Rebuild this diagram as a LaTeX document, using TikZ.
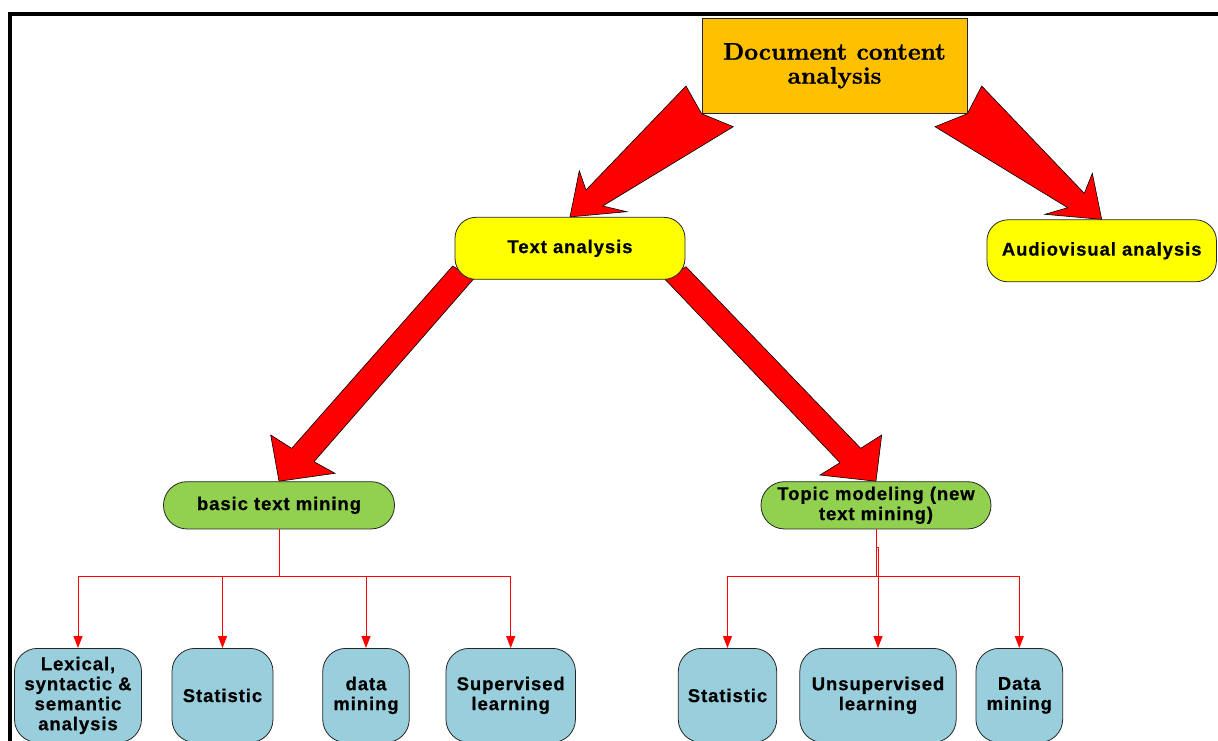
\documentclass[tikz,border=0pt]{standalone}
\usepackage{fontspec}
\newfontfamily\arialb{Liberation Sans}[LetterSpace=5, BoldFeatures={FakeBold=0.6}]
\newfontfamily\docfont{lmroman10-bold}[Extension=.otf, FakeBold=1]
\usetikzlibrary{arrows.meta,calc}
\pgfdeclarelayer{background}
\pgfsetlayers{background,main}
\definecolor{docorange}{RGB}{255,192,0}
\definecolor{tyellow}{RGB}{255,255,0}
\definecolor{mgreen}{RGB}{146,208,80}
\definecolor{lblue}{RGB}{153,206,220}
\tikzset{
  base/.style={draw=black!85, line width=0.8pt, inner sep=0pt, align=center,
    font=\arialb\bfseries\fontsize{18.5}{20}\selectfont},
  docbox/.style={draw=black!85, line width=0.8pt, inner sep=0pt, align=center,
    fill=docorange, minimum width=265pt, minimum height=95pt,
    font=\docfont\fontsize{24}{24}\selectfont},
  ybox/.style={base, fill=tyellow, rounded corners=21pt, minimum width=230pt, minimum height=62pt},
  gbox/.style={base, fill=mgreen, rounded corners=23.5pt, minimum width=231pt, minimum height=47.3pt},
  bbox/.style={base, fill=lblue, rounded corners=23pt, anchor=north, minimum height=94pt},
  fat/.style={fill=red, draw=black, line width=0.6pt, line join=miter},
  stem/.style={draw=red, line width=1pt},
  tree/.style={stem, -{Triangle[length=12pt,width=9pt]}},
}
\begin{document}
\begin{tikzpicture}[x=1pt,y=-1pt]
\useasboundingbox (0,0) rectangle (1218,740);
\clip (0,0) rectangle (1218,740);

% frame
\draw[line width=4pt] (1222,14) -- (10,14) -- (10,744);

% nodes
\node[docbox] (doc) at (834.5,65.8) {Document content\\analysis};
\node[ybox] (ta) at (570,248.3) {Text analysis};
\node[ybox, minimum width=229.5pt] (av) at (1101.7,250.8) {Audiovisual analysis};
\node[gbox] (btm) at (279,505.3) {basic text mining};
\node[gbox, minimum width=230pt] (tm) at (876,505.3) {Topic modeling (new\\text mining)};

\node[bbox, minimum width=127pt] (lex) at (78,648) {Lexical,\\syntactic \&\\semantic\\analysis};
\node[bbox, minimum width=101pt] (st1) at (222.5,648) {Statistic};
\node[bbox, minimum width=86.5pt] (dm1) at (366,648) {data\\mining};
\node[bbox, minimum width=129.5pt] (sup) at (510.7,648) {Supervised\\learning};
\node[bbox, minimum width=98.4pt] (st2) at (727.5,648) {Statistic};
\node[bbox, minimum width=156.4pt] (uns) at (878,648) {Unsupervised\\learning};
\node[bbox, minimum width=86.7pt] (dm2) at (1019.3,648) {Data\\mining};

% tree connectors
\coordinate (bus) at (0,576);
\coordinate (jb) at ($(btm.south |- bus)$);
\draw[stem] (btm.south) -- (jb);
\foreach \c in {lex,st1,dm1,sup}
  \draw[tree] (jb) -| (\c.north);
\coordinate (jt) at ($(tm.south |- bus)$);
\coordinate (jog) at ($(tm.south)+(0,18)$);
\draw[stem] (tm.south) -- (jt);
\foreach \c in {st2,dm2}
  \draw[tree] (jt) -| (\c.north);
\draw[tree] (jog) -| (uns.north);

% big arrows
\begin{pgfonlayer}{background}
\fill[white] (0,0) rectangle (1218,740);
\draw[fat] (686,86) -- (586,190) -- (579.3,170.7) -- (ta.north) -- (626.7,211.7)
  -- (602.7,206) -- (733.3,126.7) -- (doc.south west) -- cycle;
\draw[fat] (981.7,86) -- (1084.3,193.3) -- (1092.3,173.3) -- (av.north) -- (1045,214.3)
  -- (1067.7,207.7) -- (935,126.7) -- (doc.south east) -- cycle;
\draw[fat] (452.7,266) -- (291.7,448.3) -- (270.7,435) -- (btm.north) -- (335,473.3)
  -- (314,461.7) -- (473.3,279.3) -- cycle;
\draw[fat] (665,279.3) -- (686,266.7) -- (860.7,448.3) -- (881.7,435) -- (tm.north)
  -- (820,475) -- (840,462.7) -- cycle;
\end{pgfonlayer}
\end{tikzpicture}
\end{document}
